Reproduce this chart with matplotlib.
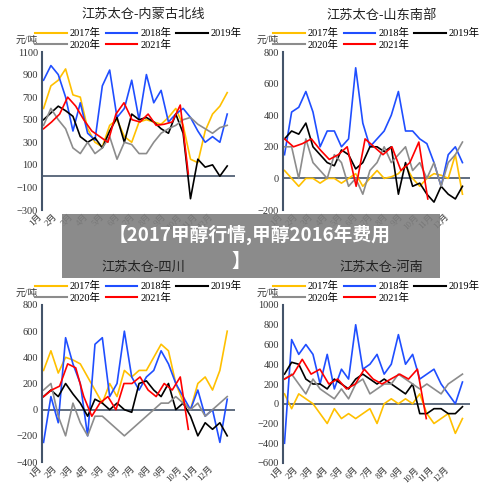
import numpy as np
import matplotlib
matplotlib.use("Agg")
import matplotlib.pyplot as plt
from matplotlib.patches import Rectangle
from matplotlib.lines import Line2D

plt.rcParams['font.family'] = ['Liberation Serif', 'Noto Sans CJK SC', 'DejaVu Sans']

months = ['1月','2月','3月','4月','5月','6月','7月','8月','9月','10月','11月','12月']
years = ['2017年','2018年','2019年','2020年','2021年']
colors = ['#FFC000', '#1F4EFF', '#000000', '#8C8C8C', '#FF0000']

titles = ['江苏太仓-内蒙古北线', '江苏太仓-山东南部', '江苏太仓-四川', '江苏太仓-河南']

tl = [
 [600,800,850,950,720,700,420,300,260,450,500,350,300,480,500,480,460,520,600,450,150,120,400,550,620,740],
 [850,980,900,700,400,650,380,320,800,940,520,600,850,500,900,650,760,480,550,600,520,400,300,350,300,550],
 [500,560,620,580,530,350,300,340,250,400,520,300,550,500,520,480,420,380,550,380,-200,150,80,100,0,90],
 [450,600,500,420,250,200,300,200,250,350,150,300,280,200,200,300,380,420,450,500,520,460,420,380,430,450],
 [420,480,550,700,620,500,400,350,300,550,650,500,480,550,450,460,480,630,20],
]
tr = [
 [50,0,-50,0,0,-30,0,0,-30,0,30,-50,0,50,0,10,30,80,0,-50,0,30,20,0,150,-100],
 [150,420,450,550,420,200,300,300,200,250,700,350,200,250,300,400,550,300,300,250,220,100,-50,150,200,100],
 [250,300,280,350,200,150,100,80,180,150,60,100,200,200,170,200,-100,100,-50,-30,-100,-150,-50,-100,-130,-50],
 [200,200,0,250,100,50,0,150,100,-50,0,-100,50,100,200,100,150,200,50,100,0,100,-50,100,150,230],
 [250,200,220,250,180,120,150,200,-50,250,200,150,200,50,100,230,-130],
]
bl = [
 [300,450,280,400,380,350,250,150,50,200,100,300,250,300,300,400,500,450,200,60,0,200,250,150,300,600],
 [-250,100,-100,550,350,200,-200,500,550,100,200,600,250,150,250,300,450,350,200,100,0,150,-50,0,-250,80],
 [100,150,100,200,120,50,-50,80,50,0,50,0,-20,200,220,150,100,200,0,50,-50,-200,-100,-150,-100,-200],
 [150,200,-50,-200,50,-100,-200,-50,-50,-100,-150,-200,-150,-100,-50,0,50,50,100,50,0,50,-50,0,50,100],
 [100,150,180,350,320,100,-50,50,100,0,200,200,250,150,100,200,150,250,-150],
]
br = [
 [100,-50,100,50,0,-100,-200,-50,-150,-100,-150,-100,-50,-200,0,50,0,50,0,100,-100,-200,-150,-100,-300,-150],
 [-400,650,500,600,500,200,500,150,350,250,800,350,400,500,300,400,700,400,500,250,300,350,200,100,0,220],
 [300,420,400,250,200,200,150,250,200,150,250,300,250,200,250,200,150,100,200,-100,-100,-50,-50,-100,-100,-30],
 [250,300,200,100,250,150,100,50,150,50,200,250,100,150,200,200,300,250,200,150,200,150,100,200,250,300],
 [250,300,450,300,350,200,250,150,200,350,250,200,250,300,250,350,-150],
]
panels = [tl, tr, bl, br]
ylims = [(-300, 1100, 200), (-200, 800, 200), (-400, 800, 200), (-600, 1000, 200)]
ends = [9.3, 9.5, 9.3, 9.4]

W, H = 500, 497
fig = plt.figure(figsize=(5, 4.97), dpi=100)
boxes = [(42, 52, 235, 210), (283, 52, 470, 210), (42, 305, 235, 462), (283, 305, 470, 463)]
title_y = [15, 15, 268, 268]
axc = '#44546A'
for k, (x0, y0, x1, y1) in enumerate(boxes):
    ax = fig.add_axes([x0 / W, 1 - y1 / H, (x1 - x0) / W, (y1 - y0) / H])
    lo, hi, st = ylims[k]
    for i, ser in enumerate(panels[k]):
        end = ends[k] if i == 4 else 11.8
        xs = np.linspace(0, end, len(ser))
        ax.plot(xs, ser, color=colors[i], lw=1.2)
    ax.set_ylim(lo, hi)
    ax.set_xlim(-0.1, 12.3)
    ax.set_yticks(np.arange(lo, hi + 1, st))
    ax.tick_params(axis='y', labelsize=7.5, length=0, pad=3, colors='#333333')
    for s in ['top', 'right', 'bottom']:
        ax.spines[s].set_visible(False)
    ax.spines['left'].set_color(axc)
    ax.spines['left'].set_linewidth(1.5)
    ax.axhline(0, color=axc, lw=1.2, zorder=0)
    ax.set_xticks(np.arange(12) * 1.0)
    ax.set_xticklabels(months, rotation=45, ha='right', fontsize=6.5, color='#333333')
    ax.tick_params(axis='x', length=0, pad=2)
    ax.text(-0.02, 1.06, '元/吨', transform=ax.transAxes, ha='right', fontsize=7, color='#333333')
    fig.text(((x0 + x1) / 2 + 5) / W, 1 - title_y[k] / H, titles[k], ha='center', va='center',
             fontsize=9.5, color='#222222', zorder=12)
    hs = [Line2D([], [], color=c, lw=1.5) for c in colors]
    order = [0, 3, 1, 4, 2]
    ax.legend([hs[o] for o in order], [years[o] for o in order], ncol=3, loc='lower center',
              bbox_to_anchor=(0.5, 0.98), frameon=False, fontsize=7.5, handlelength=3.0,
              columnspacing=0.5, labelspacing=0.15, borderpad=0, handletextpad=0.3)

fig.patches.append(Rectangle((62 / W, 1 - 278 / H), 378 / W, 64 / H, transform=fig.transFigure,
                             facecolor='#7F7F7F', alpha=0.9, zorder=10))
fig.text(250 / W, 1 - 235 / H, '【2017甲醇行情,甲醇2016年费用', ha='center', va='center',
         fontsize=13.5, color='white', fontweight='bold', family=['Noto Sans CJK SC', 'DejaVu Sans'], zorder=11)
fig.text(241 / W, 1 - 261 / H, '】', ha='center', va='center',
         fontsize=13.5, color='white', fontweight='bold', family=['Noto Sans CJK SC', 'DejaVu Sans'], zorder=11)
fig.savefig('out.png', dpi=100)
